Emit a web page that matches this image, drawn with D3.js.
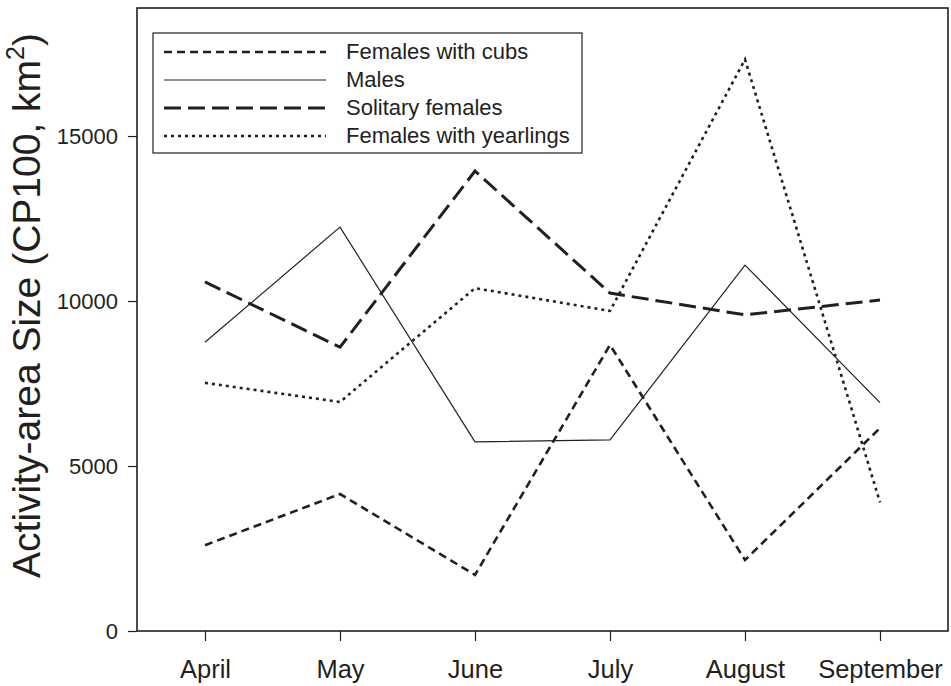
<!DOCTYPE html>
<html>
<head>
<meta charset="utf-8">
<script src="https://cdn.jsdelivr.net/npm/d3@7"></script>
<style>
  html, body { margin: 0; padding: 0; background: #fff; }
  svg { display: block; font-family: "Liberation Sans", Arial, Helvetica, sans-serif; }
</style>
</head>
<body>
<svg id="chart" width="951" height="686"></svg>
<script>
// Monthly activity-area sizes (CP100, km²)
const months = ["April", "May", "June", "July", "August", "September"];
const femalesWithCubs = [2600, 4150, 1700, 8670, 2150, 6150];
const males = [8750, 12240, 5730, 5790, 11090, 6920];
const solitaryFemales = [10580, 8600, 13940, 10240, 9580, 10030];
const femalesWithYearlings = [7520, 6940, 10390, 9700, 17320, 3900];
const yTicks = [0, 5000, 10000, 15000];

const seriesNames = ["Females with cubs", "Males", "Solitary females", "Females with yearlings"];
const seriesValues = [femalesWithCubs, males, solitaryFemales, femalesWithYearlings];
const seriesStyle = [
  { width: 2.6, dash: "8,5" },
  { width: 1.2, dash: null },
  { width: 3.0, dash: "17,7" },
  { width: 2.6, dash: "3,4" }
];

const svg = d3.select("#chart");
const frame = { left: 137, right: 948, top: 8, bottom: 631 };
const ink = "#231f20";

const x = d3.scalePoint().domain(months).range([205, 880]);
const y = d3.scaleLinear().domain([0, 18880]).range([frame.bottom, frame.top]);

// plot frame
svg.append("rect")
  .attr("x", frame.left).attr("y", frame.top)
  .attr("width", frame.right - frame.left).attr("height", frame.bottom - frame.top)
  .attr("fill", "none").attr("stroke", ink).attr("stroke-width", 1.6);

// y axis
const yAxis = svg.append("g")
  .attr("transform", `translate(${frame.left},0)`)
  .call(d3.axisLeft(y).tickValues(yTicks).tickFormat(d3.format("d")).tickSize(9).tickPadding(10));
yAxis.select(".domain").remove();
yAxis.selectAll(".tick line").attr("stroke", ink).attr("stroke-width", 1.2);
yAxis.selectAll(".tick text").attr("fill", ink).style("font-size", "22px");

// x axis
const xAxis = svg.append("g")
  .attr("transform", `translate(0,${frame.bottom})`)
  .call(d3.axisBottom(x).tickSize(10).tickPadding(19));
xAxis.select(".domain").remove();
xAxis.selectAll(".tick line").attr("stroke", ink).attr("stroke-width", 1.2);
xAxis.selectAll(".tick text").attr("fill", ink).style("font-size", "25.5px");

// y axis title
const title = svg.append("text")
  .attr("transform", `translate(40,${(frame.top + frame.bottom) / 2 - 14}) rotate(-90)`)
  .attr("text-anchor", "middle")
  .attr("fill", ink)
  .style("font-size", "39px");
title.append("tspan").text("Activity-area Size (CP100, km");
title.append("tspan").attr("dy", -16).style("font-size", "25px").text("2");
title.append("tspan").attr("dy", 16).text(")");

// series lines
const line = d3.line().x((d, i) => x(months[i])).y(d => y(d));
seriesValues.forEach((vals, k) => {
  svg.append("path")
    .datum(vals)
    .attr("d", line)
    .attr("fill", "none")
    .attr("stroke", ink)
    .attr("stroke-width", seriesStyle[k].width)
    .attr("stroke-dasharray", seriesStyle[k].dash);
});

// legend
const legend = svg.append("g");
legend.append("rect")
  .attr("x", 153).attr("y", 33).attr("width", 429).attr("height", 120)
  .attr("fill", "#fff").attr("stroke", ink).attr("stroke-width", 1.2);
seriesNames.forEach((name, k) => {
  const ry = 52 + k * 28;
  legend.append("line")
    .attr("x1", 164).attr("x2", 326).attr("y1", ry).attr("y2", ry)
    .attr("stroke", ink)
    .attr("stroke-width", seriesStyle[k].width)
    .attr("stroke-dasharray", seriesStyle[k].dash);
  legend.append("text")
    .attr("x", 346).attr("y", ry + 7)
    .attr("fill", ink)
    .style("font-size", "22px")
    .text(name);
});
</script>
</body>
</html>
